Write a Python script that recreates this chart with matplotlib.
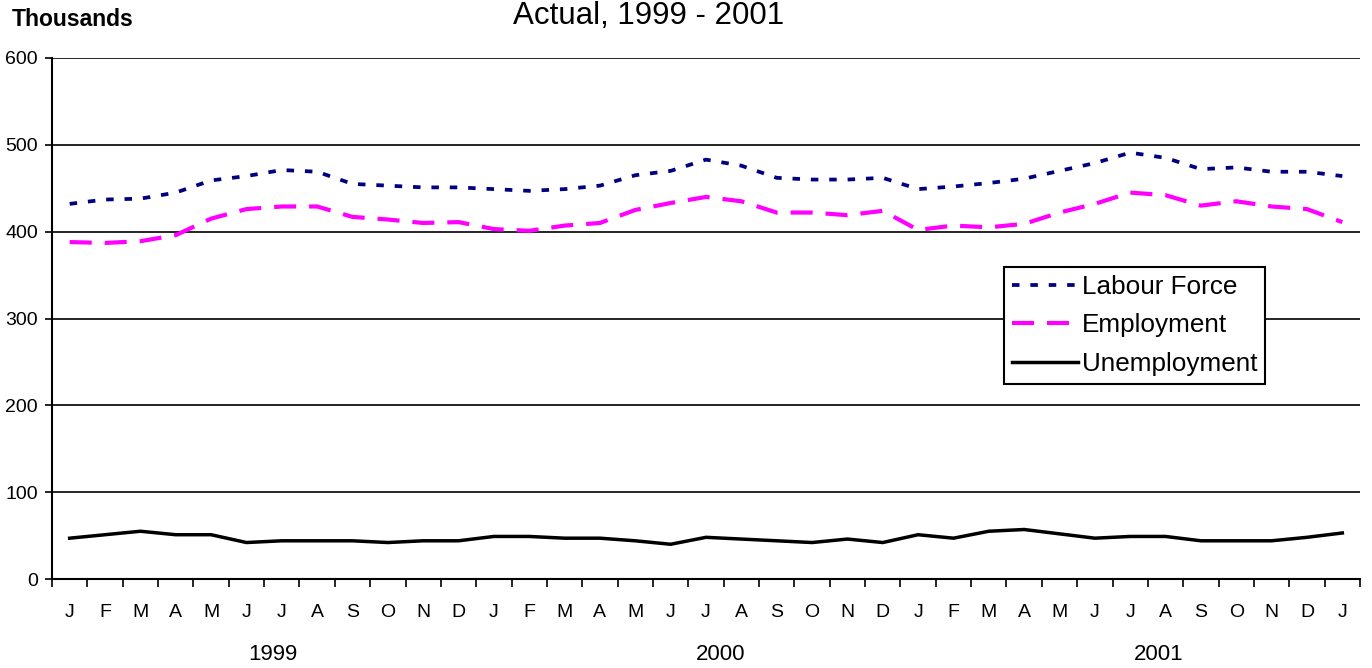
import matplotlib
matplotlib.use("Agg")
import matplotlib.pyplot as plt
import numpy as np

plt.rcParams['font.family'] = ['Liberation Sans', 'DejaVu Sans']

# months: Jan 1999 .. Jan 2001 (37 points)
months = ["J", "F", "M", "A", "M", "J", "J", "A", "S", "O", "N", "D"] * 3 + ["J"]
years = ["1999", "2000", "2001"]

labour_force = [432, 437, 438, 445, 459, 464, 471, 469, 455, 453, 451, 451,
                449, 447, 449, 453, 465, 470, 483, 476, 462, 460, 460, 462,
                449, 452, 456, 461, 470, 479, 491, 485, 472, 474, 469, 469,
                464]
employment = [388, 387, 389, 396, 415, 426, 429, 429, 417, 414, 410, 411,
              403, 401, 407, 410, 425, 433, 440, 435, 422, 422, 419, 424,
              402, 407, 405, 409, 422, 432, 445, 442, 430, 435, 429, 426,
              411]
unemployment = [47, 51, 55, 51, 51, 42, 44, 44, 44, 42, 44, 44,
                49, 49, 47, 47, 44, 40, 48, 46, 44, 42, 46, 42,
                51, 47, 55, 57, 52, 47, 49, 49, 44, 44, 44, 48,
                53]

x = np.arange(len(months))

fig = plt.figure(figsize=(13.72, 6.68), dpi=100)
ax = fig.add_axes([52 / 1372, 1 - 579 / 668, 1308 / 1372, 521 / 668])

ax.plot(x, labour_force, color='#000080', linewidth=2.7,
        dashes=(2, 2.9), label='Labour Force')
ax.plot(x, employment, color='#FF00FF', linewidth=3,
        dashes=(5.3, 3.1), label='Employment')
ax.plot(x, unemployment, color='black', linewidth=2.5, label='Unemployment')

ax.set_xlim(-0.5, len(months) - 0.5)
ax.set_ylim(0, 600)
ax.set_yticks(np.arange(0, 601, 100))
ax.yaxis.grid(True, color='black', linewidth=1.2)
ax.set_axisbelow(True)
ax.tick_params(axis='y', length=5, width=1.2, pad=5, labelsize=14)

# tick marks at category boundaries, labels at category centres
ax.set_xticks(np.arange(len(months) + 1) - 0.5)
ax.set_xticklabels([])
ax.set_xticks(x, minor=True)
ax.set_xticklabels(months, minor=True)
ax.tick_params(axis='x', which='major', length=6, width=1.2)
ax.tick_params(axis='x', which='minor', length=0, pad=18, labelsize=14)

for side in ['top', 'right']:
    ax.spines[side].set_visible(False)
for side in ['left', 'bottom']:
    ax.spines[side].set_linewidth(1.5)

year_x = [5.75, 18.4, 30.8]
for xp, yr in zip(year_x, years):
    ax.text(xp, -0.145, yr, transform=ax.get_xaxis_transform(),
            ha='center', va='center', fontsize=16)

leg = ax.legend(loc='upper left', bbox_to_anchor=(1004 / 1372, 1 - 267 / 668),
                bbox_transform=fig.transFigure, fontsize=18.8, frameon=True,
                fancybox=False, edgecolor='black', framealpha=1,
                handlelength=2.55, handletextpad=0.12, labelspacing=0.56,
                borderpad=0.3, borderaxespad=0)
leg.get_frame().set_linewidth(1.5)

fig.text(649 / 1372, 1 - 16 / 668, "Actual, 1999 - 2001", ha='center',
         va='center', fontsize=22.5)
fig.text(12 / 1372, 1 - 20 / 668, "Thousands", ha='left', va='center',
         fontsize=16.5, fontweight='bold')

fig.savefig("out.png", dpi=100)
